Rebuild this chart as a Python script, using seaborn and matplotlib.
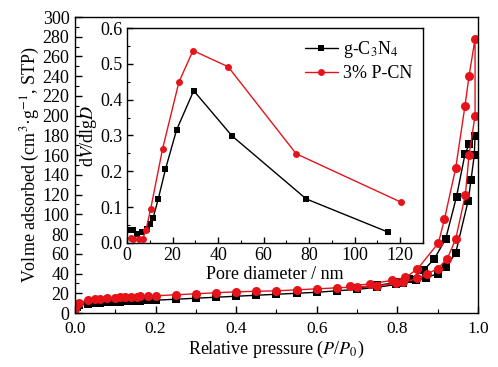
import numpy as np
import pandas as pd
import matplotlib
matplotlib.use("Agg")
import matplotlib.pyplot as plt
from matplotlib.ticker import MultipleLocator
import seaborn as sns

# ---------------- data ----------------
# Isotherm: g-C3N4 (adsorption then desorption)
gcn_p = [0.001, 0.005, 0.011, 0.033, 0.05, 0.062, 0.079, 0.099, 0.112, 0.124, 0.14, 0.153,
         0.161, 0.182, 0.201, 0.251, 0.30, 0.35, 0.40, 0.45, 0.50, 0.55, 0.60, 0.65, 0.70,
         0.749, 0.798, 0.814, 0.846, 0.871, 0.90, 0.922, 0.945, 0.976, 0.983, 0.991, 0.993,
         0.978, 0.968, 0.947, 0.92, 0.892, 0.866, 0.83, 0.80, 0.75, 0.70]
gcn_v = [2, 6, 8, 9.5, 10, 10.5, 11, 11.5, 11.5, 12, 12, 12.5,
         12.5, 13, 13, 14, 15, 16, 17, 18, 19, 20, 21, 22.5, 24,
         26, 29, 30, 33, 35.5, 40, 47, 61, 114, 135, 160, 179,
         171, 161, 118, 75, 55, 43.6, 34, 31, 28, 25.5]

# Isotherm: 3% P-CN (adsorption then desorption)
pcn_p = [0.001, 0.005, 0.011, 0.033, 0.05, 0.062, 0.079, 0.099, 0.112, 0.124, 0.14, 0.153,
         0.161, 0.182, 0.201, 0.251, 0.30, 0.35, 0.40, 0.45, 0.50, 0.55, 0.60, 0.65, 0.70,
         0.749, 0.798, 0.814, 0.85, 0.874, 0.90, 0.924, 0.945, 0.969, 0.978, 0.993, 0.993,
         0.978, 0.968, 0.945, 0.917, 0.902, 0.85, 0.82, 0.786, 0.732, 0.683]
pcn_v = [4, 9, 10.5, 13, 14, 14.5, 15, 15.5, 16, 16, 16.5, 16.5,
         17, 17, 17.5, 18.5, 19.5, 20.5, 21.5, 22, 22.5, 23.5, 24.5, 25.5, 26.5,
         27.5, 30, 31, 35, 39.5, 45, 55, 75, 120, 160, 200, 278,
         240, 210, 147, 95, 71, 44.6, 36, 33, 29.5, 27.5]

# Pore size distribution
gcn_d = [1.8, 2.8, 4.5, 6.4, 8.6, 10.1, 11.5, 13.7, 16.9, 21.8, 29.3, 46.1, 78.7, 114.8]
gcn_dv = [0.035, 0.035, 0.025, 0.032, 0.040, 0.053, 0.071, 0.122, 0.206, 0.316, 0.425, 0.299, 0.123, 0.030]
pcn_d = [1.6, 2.8, 5.4, 6.9, 8.3, 10.4, 15.6, 22.8, 29.0, 44.4, 74.3, 120.3]
pcn_dv = [0.015, 0.012, 0.010, 0.012, 0.035, 0.095, 0.262, 0.449, 0.537, 0.492, 0.249, 0.114]

labels = ["g-C$_3$N$_4$", "3% P-CN"]
RED = "#e5141b"

# ---------------- style ----------------
sns.set_theme(style="ticks")
plt.rcParams["font.family"] = ["Liberation Serif", "DejaVu Serif"]
plt.rcParams["mathtext.fontset"] = "stix"
plt.rcParams["xtick.direction"] = "in"
plt.rcParams["ytick.direction"] = "in"
plt.rcParams["axes.edgecolor"] = "black"
plt.rcParams["axes.linewidth"] = 1.0
plt.rcParams["xtick.color"] = "black"
plt.rcParams["ytick.color"] = "black"
plt.rcParams["text.color"] = "black"
plt.rcParams["axes.labelcolor"] = "black"

FS = 13

fig = plt.figure(figsize=(4.98, 3.67), dpi=100)
ax = fig.add_axes([0.1506, 0.1471, 0.809, 0.8065])

df1 = pd.DataFrame({"p": gcn_p, "v": gcn_v})
df2 = pd.DataFrame({"p": pcn_p, "v": pcn_v})
sns.lineplot(data=df1, x="p", y="v", sort=False, estimator=None, ax=ax, color="black",
             marker="s", markersize=5.5, markeredgewidth=0, linewidth=1.0)
sns.lineplot(data=df2, x="p", y="v", sort=False, estimator=None, ax=ax, color=RED,
             marker="o", markersize=6.5, markeredgewidth=0, linewidth=1.0)

ax.set_xlim(0, 1.0)
ax.set_ylim(0, 300)
ax.xaxis.set_major_locator(MultipleLocator(0.2))
ax.xaxis.set_minor_locator(MultipleLocator(0.1))
ax.yaxis.set_major_locator(MultipleLocator(20))
ax.yaxis.set_minor_locator(MultipleLocator(10))
ax.xaxis.set_major_formatter(matplotlib.ticker.FormatStrFormatter("%.1f"))
ax.tick_params(which="major", length=5, width=1, labelsize=FS)
ax.tick_params(axis="x", which="major", pad=6, labelsize=12.5)
ax.tick_params(axis="y", which="major", pad=4)
ax.tick_params(which="minor", length=3, width=0.8)
ax.set_xlabel("Relative pressure ($P$/$P_0$)", fontsize=FS, labelpad=1)
ax.set_ylabel("Volme adsorbed (cm$^3$·g$^{-1}$, STP)", fontsize=FS, labelpad=0)
for s in ax.spines.values():
    s.set_visible(True)

# ---------------- inset ----------------
ins = fig.add_axes([0.255, 0.3379, 0.5944, 0.5858])
dfa = pd.DataFrame({"d": gcn_d, "dv": gcn_dv})
dfb = pd.DataFrame({"d": pcn_d, "dv": pcn_dv})
sns.lineplot(data=dfa, x="d", y="dv", sort=False, estimator=None, ax=ins, color="black",
             marker="s", markersize=4.5, markeredgewidth=0, linewidth=1.0, label=labels[0])
sns.lineplot(data=dfb, x="d", y="dv", sort=False, estimator=None, ax=ins, color=RED,
             marker="o", markersize=5, markeredgewidth=0, linewidth=1.0, label=labels[1])
ins.set_xlim(0, 130)
ins.set_ylim(0, 0.6)
ins.xaxis.set_major_locator(MultipleLocator(20))
ins.xaxis.set_minor_locator(MultipleLocator(10))
ins.yaxis.set_major_locator(MultipleLocator(0.1))
ins.yaxis.set_minor_locator(MultipleLocator(0.05))
ins.yaxis.set_major_formatter(matplotlib.ticker.FormatStrFormatter("%.1f"))
ins.tick_params(which="major", length=4, width=1, labelsize=FS, pad=3)
ins.tick_params(which="minor", length=2.5, width=0.8)
ins.set_xlabel("Pore diameter / nm", fontsize=FS, labelpad=1)
ins.set_ylabel("d$V$/dlg$D$", fontsize=FS, labelpad=1)
for s in ins.spines.values():
    s.set_visible(True)
leg = ins.legend(loc="upper right", frameon=False, fontsize=FS, handlelength=1.8,
                 handletextpad=0.3, borderaxespad=0.2, labelspacing=0.3)

fig.savefig("out.png", dpi=100)
